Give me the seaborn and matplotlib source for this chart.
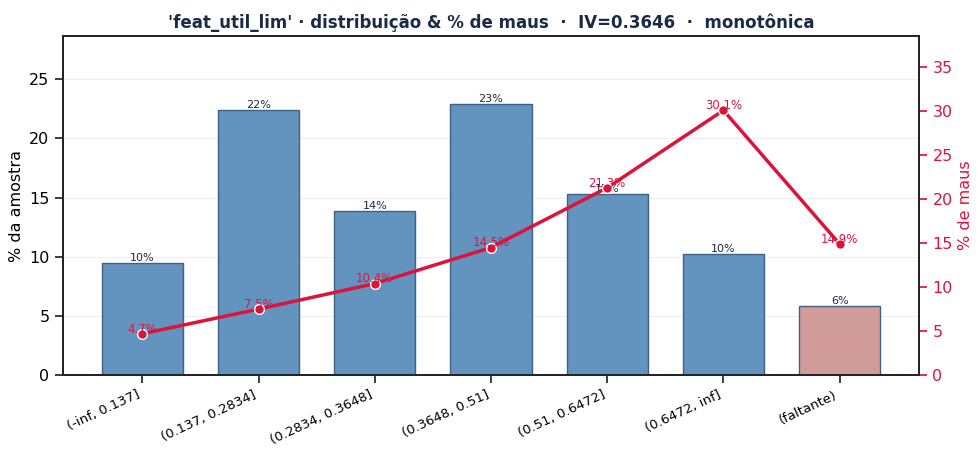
import matplotlib
matplotlib.use("Agg")
import matplotlib.pyplot as plt
import seaborn as sns
import pandas as pd
import numpy as np

faixas = ["(-inf, 0.137]", "(0.137, 0.2834]", "(0.2834, 0.3648]", "(0.3648, 0.51]",
          "(0.51, 0.6472]", "(0.6472, inf]", "(faltante)"]
pct_amostra = [9.5, 22.4, 13.9, 22.9, 15.3, 10.2, 5.8]
pct_maus = [4.7, 7.5, 10.4, 14.5, 21.3, 30.1, 14.9]
cores = ["#6393bf"] * 6 + ["#d09b98"]

sns.set_theme(style="ticks")
plt.rcParams['font.family'] = ['DejaVu Sans']

df = pd.DataFrame({"faixa": faixas, "amostra": pct_amostra, "maus": pct_maus})

fig, ax = plt.subplots(figsize=(9.8, 4.53), dpi=100)
sns.barplot(data=df, x="faixa", y="amostra", hue="faixa", palette=cores, legend=False,
            width=0.7, edgecolor="#3c6385", linewidth=1, saturation=1, ax=ax)
for i, v in enumerate(pct_amostra):
    ax.text(i, v, f"{v:.0f}%", ha="center", va="bottom", fontsize=8, color="#1a2b45")
ax.set_ylim(0, max(pct_amostra) * 1.25)
ax.set_ylabel("% da amostra", fontsize=11.5, color="black")
ax.set_xlabel("")
ax.grid(axis="y", color="#eeeeee", linewidth=0.8)
ax.set_axisbelow(True)
plt.setp(ax.get_xticklabels(), rotation=25, ha="right", fontsize=9.5, color="black")
for s in ax.spines.values():
    s.set_color("black")

ax2 = ax.twinx()
ax2.plot(range(len(faixas)), pct_maus, color="crimson", linewidth=2.5, marker="o",
         markersize=7, markeredgecolor="white", markeredgewidth=1)
for i, v in enumerate(pct_maus):
    ax2.text(i, v - 0.2, f"{v:.1f}%", ha="center", va="bottom", fontsize=8.5, color="crimson")
ax2.set_ylim(0, max(pct_maus) * 1.28)
ax2.set_ylabel("% de maus", fontsize=11.5, color="crimson")
ax2.tick_params(axis="y", colors="crimson", labelsize=11.5)
ax.tick_params(axis="y", labelsize=11.5, labelcolor="black")

ax.set_title("'feat_util_lim' · distribuição & % de maus  ·  IV=0.3646  ·  monotônica",
             fontsize=12, fontweight="bold", color="#1a2b45")

fig.subplots_adjust(left=0.064, right=0.938, top=0.92, bottom=0.172)
fig.savefig("out.png", dpi=100)
